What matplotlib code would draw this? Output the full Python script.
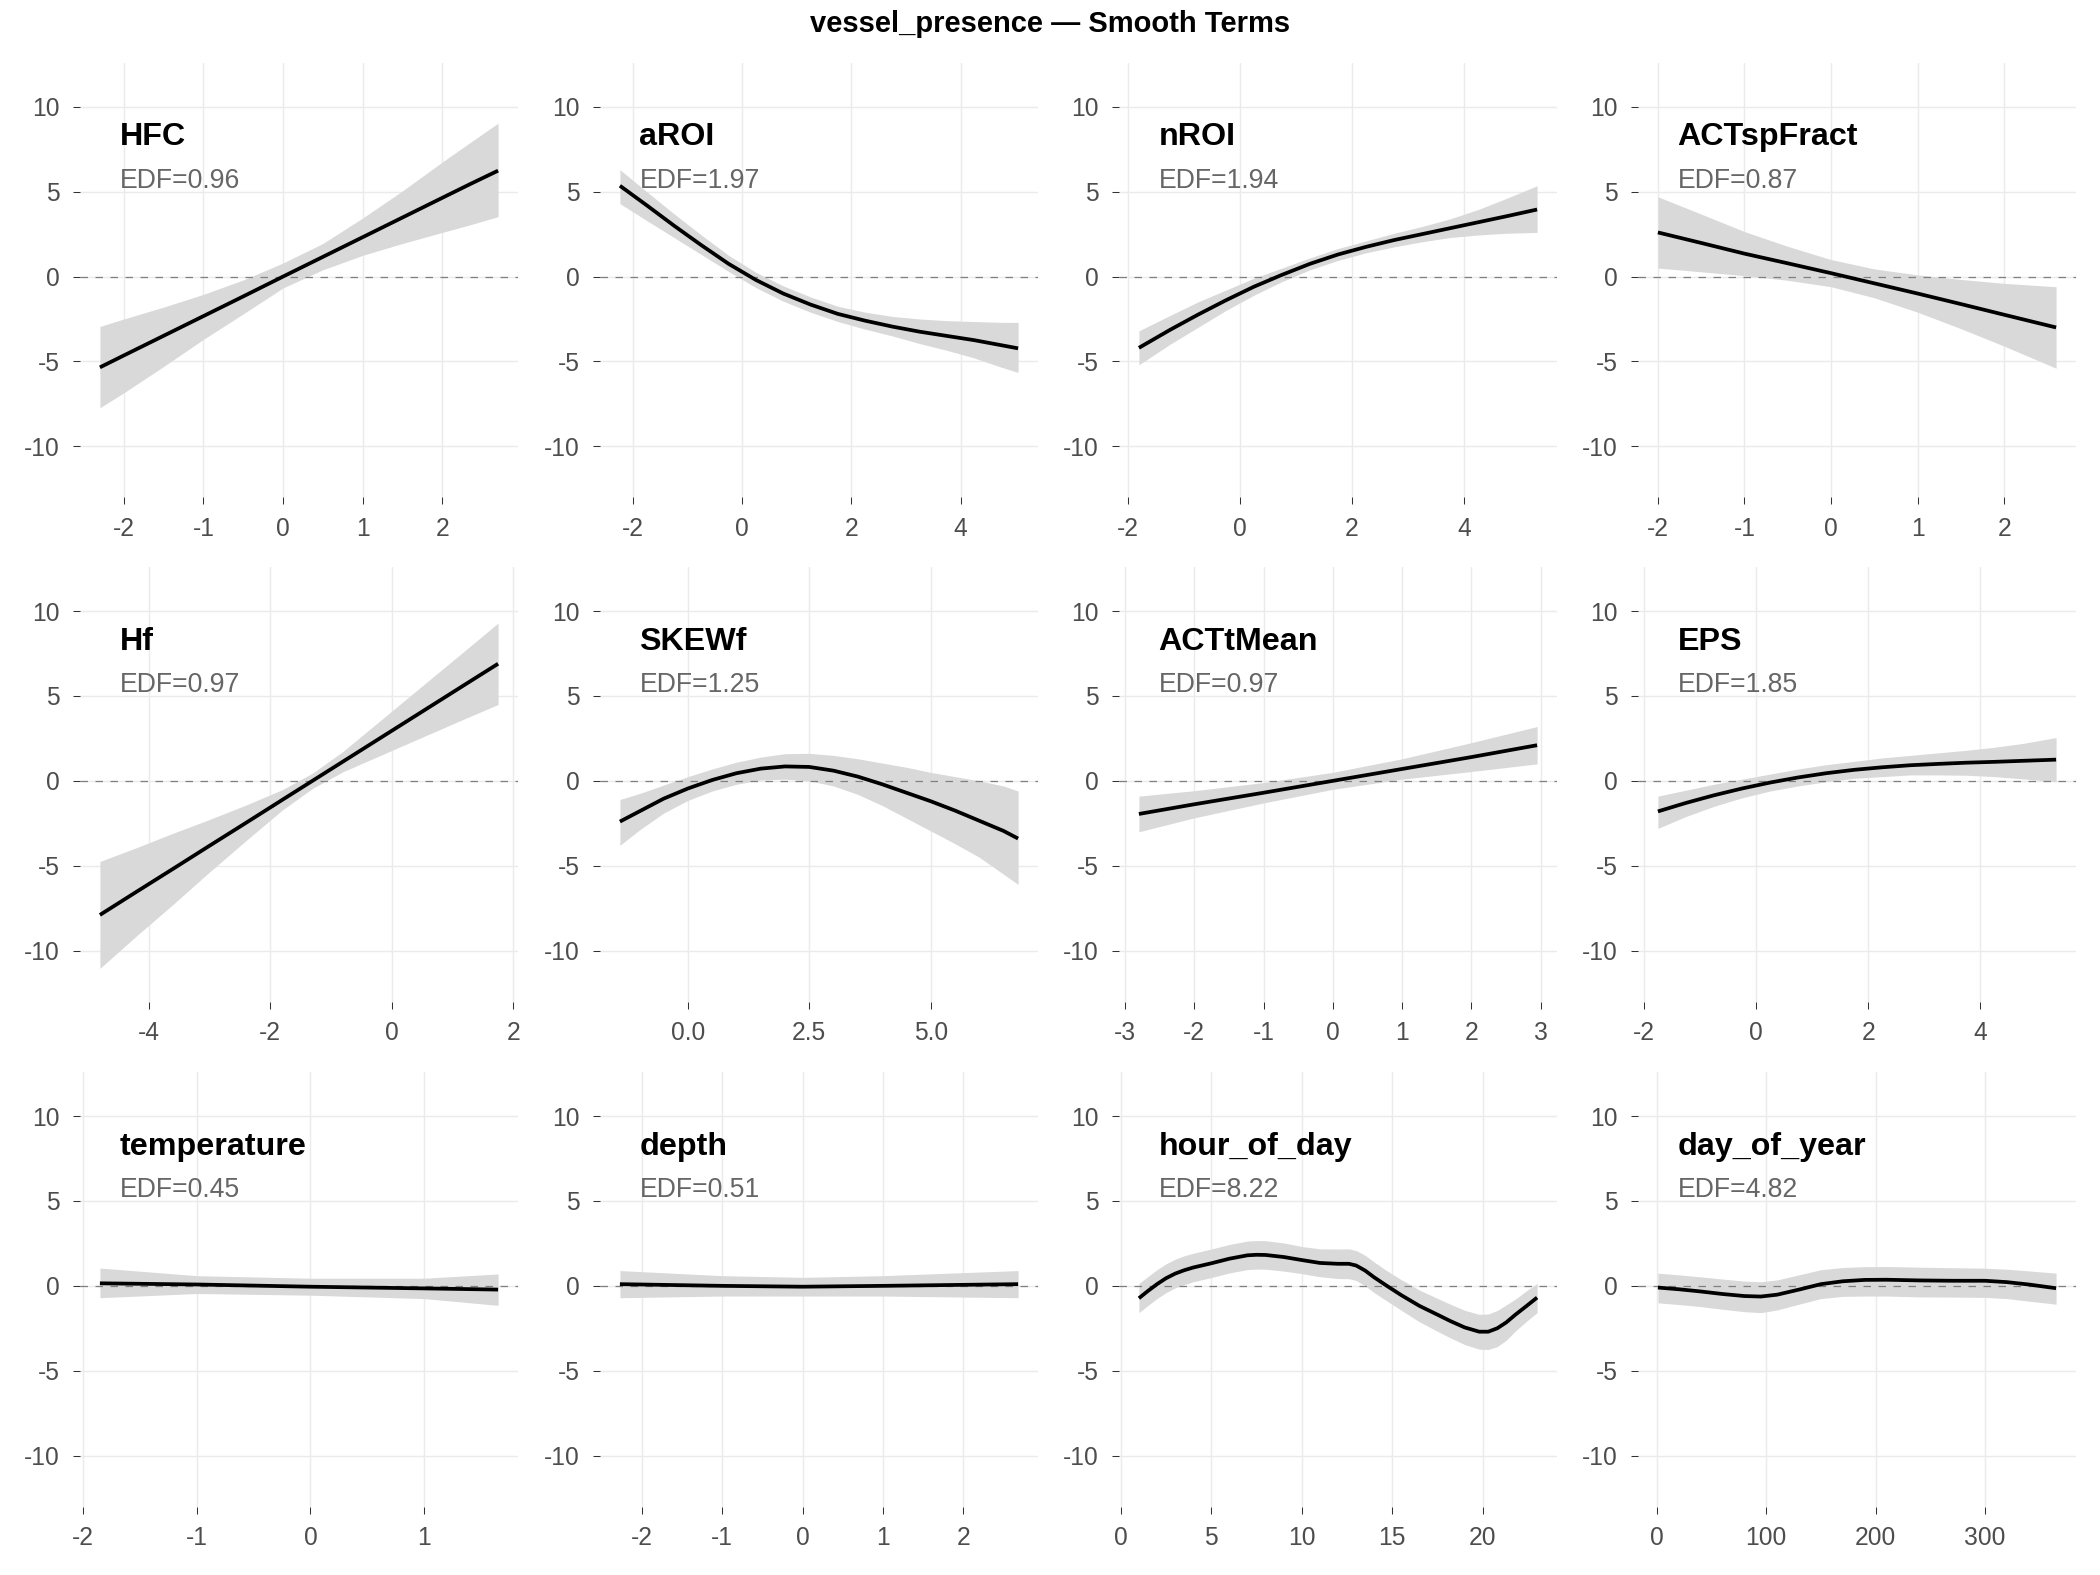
import matplotlib
matplotlib.use('Agg')
import matplotlib.pyplot as plt
import numpy as np

plt.rcParams['font.family'] = ['Liberation Sans', 'DejaVu Sans']

# smooth terms and their effective degrees of freedom
terms = ['HFC', 'aROI', 'nROI', 'ACTspFract',
         'Hf', 'SKEWf', 'ACTtMean', 'EPS',
         'temperature', 'depth', 'hour_of_day', 'day_of_year']
edf = [0.96, 1.97, 1.94, 0.87, 0.97, 1.25, 0.97, 1.85, 0.45, 0.51, 8.22, 4.82]

# fitted smooths (x, fit, lower CI, upper CI)
hfc_x = [-2.3, -2.0, -1.5, -1.0, -0.5, 0.0, 0.5, 1.0, 1.5, 2.0, 2.35, 2.7]
hfc_fit = [-5.35, -4.65, -3.49, -2.33, -1.17, 0.0, 1.16, 2.32, 3.48, 4.64, 5.45, 6.24]
hfc_lo = [-7.73, -6.85, -5.3, -3.7, -2.2, -0.67, 0.4, 1.25, 1.95, 2.6, 3.05, 3.53]
hfc_hi = [-2.94, -2.5, -1.8, -1.05, -0.2, 0.8, 1.95, 3.45, 5.05, 6.75, 7.9, 9.04]

aroi_x = [-2.24, -1.75, -1.25, -0.75, -0.25, 0.25, 0.75, 1.25, 1.75, 2.25, 2.75, 3.25, 3.75, 4.25, 4.75, 5.05]
aroi_fit = [5.35, 4.2, 3.0, 1.85, 0.75, -0.2, -1.0, -1.65, -2.2, -2.6, -2.95, -3.25, -3.5, -3.75, -4.05, -4.23]
aroi_lo = [4.3, 3.3, 2.3, 1.3, 0.3, -0.65, -1.45, -2.1, -2.65, -3.1, -3.5, -3.95, -4.35, -4.8, -5.35, -5.65]
aroi_hi = [6.3, 5.0, 3.7, 2.45, 1.25, 0.25, -0.55, -1.2, -1.75, -2.1, -2.35, -2.5, -2.6, -2.65, -2.7, -2.7]

nroi_x = [-1.8, -1.25, -0.75, -0.25, 0.25, 0.75, 1.25, 1.75, 2.25, 2.75, 3.25, 3.75, 4.25, 4.75, 5.3]
nroi_fit = [-4.2, -3.15, -2.25, -1.4, -0.6, 0.1, 0.75, 1.3, 1.75, 2.15, 2.5, 2.85, 3.2, 3.55, 3.95]
nroi_lo = [-5.2, -4.0, -3.0, -2.0, -1.1, -0.3, 0.4, 0.95, 1.4, 1.75, 2.05, 2.3, 2.45, 2.55, 2.6]
nroi_hi = [-3.2, -2.3, -1.5, -0.8, -0.1, 0.5, 1.1, 1.65, 2.1, 2.55, 2.95, 3.4, 3.95, 4.6, 5.35]

actsp_x = [-2.0, -1.5, -1.0, -0.5, 0.0, 0.5, 1.0, 1.5, 2.0, 2.6]
actsp_fit = [2.6, 1.98, 1.35, 0.78, 0.2, -0.4, -1.0, -1.62, -2.25, -3.0]
actsp_lo = [0.5, 0.28, 0.05, -0.22, -0.6, -1.25, -2.1, -3.07, -4.1, -5.4]
actsp_hi = [4.7, 3.68, 2.65, 1.78, 1.0, 0.45, 0.1, -0.17, -0.4, -0.6]

hf_x = [-4.8, -4.2, -3.6, -3.0, -2.4, -1.8, -1.3, -0.8, -0.3, 0.2, 0.7, 1.2, 1.75]
hf_fit = [-7.9, -6.54, -5.19, -3.83, -2.48, -1.12, 0.01, 1.14, 2.27, 3.4, 4.53, 5.66, 6.9]
hf_lo = [-11.05, -9.14, -7.29, -5.38, -3.53, -1.72, -0.44, 0.54, 1.32, 2.1, 2.88, 3.66, 4.5]
hf_hi = [-4.75, -3.94, -3.09, -2.28, -1.43, -0.52, 0.46, 1.74, 3.22, 4.7, 6.18, 7.66, 9.3]

skew_x = [-1.4, -1.0, -0.5, 0.0, 0.5, 1.0, 1.5, 2.0, 2.5, 3.0, 3.5, 4.0, 4.5, 5.0, 5.5, 6.0, 6.5, 6.8]
skew_fit = [-2.4, -1.8, -1.05, -0.45, 0.05, 0.45, 0.72, 0.85, 0.82, 0.6, 0.25, -0.2, -0.7, -1.2, -1.75, -2.35, -2.95, -3.4]
skew_lo = [-3.8, -2.9, -1.9, -1.15, -0.6, -0.2, 0.05, 0.1, 0.0, -0.3, -0.8, -1.45, -2.2, -2.95, -3.7, -4.5, -5.5, -6.1]
skew_hi = [-1.1, -0.75, -0.25, 0.25, 0.7, 1.1, 1.4, 1.6, 1.62, 1.5, 1.3, 1.05, 0.8, 0.5, 0.25, 0.0, -0.3, -0.6]

actt_x = [-2.8, -2.0, -1.0, 0.0, 1.0, 2.0, 2.95]
actt_fit = [-1.95, -1.38, -0.7, 0.0, 0.7, 1.4, 2.1]
actt_lo = [-3.0, -2.18, -1.3, -0.5, 0.1, 0.55, 1.0]
actt_hi = [-0.9, -0.58, -0.1, 0.5, 1.3, 2.25, 3.2]

eps_x = [-1.75, -1.25, -0.75, -0.25, 0.25, 0.75, 1.25, 1.75, 2.25, 2.75, 3.25, 3.75, 4.25, 4.75, 5.35]
eps_fit = [-1.8, -1.3, -0.85, -0.45, -0.1, 0.2, 0.45, 0.65, 0.8, 0.92, 1.0, 1.07, 1.12, 1.18, 1.25]
eps_lo = [-2.8, -2.1, -1.5, -1.0, -0.6, -0.3, -0.05, 0.15, 0.25, 0.35, 0.35, 0.33, 0.25, 0.12, -0.05]
eps_hi = [-0.9, -0.55, -0.2, 0.1, 0.4, 0.7, 0.95, 1.15, 1.35, 1.5, 1.65, 1.8, 1.98, 2.2, 2.55]

temp_x = [-1.85, -1.0, 0.0, 1.0, 1.65]
temp_fit = [0.15, 0.08, -0.05, -0.15, -0.22]
temp_lo = [-0.7, -0.45, -0.55, -0.75, -1.15]
temp_hi = [1.05, 0.6, 0.45, 0.45, 0.7]

depth_x = [-2.27, -1.0, 0.0, 1.0, 2.68]
depth_fit = [0.1, 0.0, -0.05, 0.0, 0.1]
depth_lo = [-0.7, -0.6, -0.6, -0.6, -0.7]
depth_hi = [0.9, 0.6, 0.5, 0.6, 0.9]

hour_x = [1.0, 1.5, 2.0, 2.5, 3.0, 3.5, 4.0, 5.0, 6.0, 7.0, 7.5, 8.0, 9.0, 10.0, 11.0, 12.0, 12.6,
          13.0, 13.5, 14.0, 14.7, 15.5, 16.5, 17.5, 18.2, 19.0, 19.8, 20.3, 20.8, 21.3, 21.8, 22.4, 23.0]
hour_fit = [-0.73, -0.3, 0.1, 0.45, 0.72, 0.92, 1.08, 1.33, 1.6, 1.8, 1.83, 1.82, 1.7, 1.52, 1.35, 1.3, 1.3,
            1.2, 0.9, 0.5, 0.0, -0.55, -1.18, -1.7, -2.07, -2.45, -2.7, -2.7, -2.5, -2.15, -1.7, -1.2, -0.69]
hour_lo = [-1.58, -1.15, -0.75, -0.4, -0.12, 0.07, 0.24, 0.49, 0.76, 0.96, 0.99, 0.98, 0.87, 0.72, 0.54, 0.43, 0.42,
           0.32, 0.0, -0.4, -0.89, -1.44, -2.12, -2.68, -3.06, -3.46, -3.73, -3.75, -3.58, -3.2, -2.66, -2.1, -1.58]
hour_hi = [0.14, 0.55, 0.95, 1.3, 1.57, 1.77, 1.92, 2.17, 2.44, 2.64, 2.67, 2.66, 2.53, 2.32, 2.18, 2.17, 2.18,
           2.08, 1.8, 1.4, 0.89, 0.36, -0.25, -0.74, -1.08, -1.44, -1.68, -1.66, -1.45, -1.12, -0.78, -0.3, 0.14]

doy_x = [1, 20, 40, 60, 80, 95, 110, 130, 150, 170, 190, 210, 240, 270, 300, 320, 340, 365]
doy_fit = [-0.1, -0.2, -0.33, -0.48, -0.6, -0.63, -0.52, -0.22, 0.1, 0.27, 0.35, 0.36, 0.32, 0.3, 0.3, 0.22, 0.08, -0.14]
doy_lo = [-1.0, -1.1, -1.22, -1.38, -1.52, -1.58, -1.42, -1.08, -0.75, -0.62, -0.6, -0.6, -0.65, -0.66, -0.68, -0.75, -0.9, -1.08]
doy_hi = [0.75, 0.65, 0.53, 0.4, 0.28, 0.24, 0.35, 0.65, 0.95, 1.08, 1.13, 1.14, 1.1, 1.07, 1.04, 0.98, 0.88, 0.75]

curves = [
    (hfc_x, hfc_fit, hfc_lo, hfc_hi),
    (aroi_x, aroi_fit, aroi_lo, aroi_hi),
    (nroi_x, nroi_fit, nroi_lo, nroi_hi),
    (actsp_x, actsp_fit, actsp_lo, actsp_hi),
    (hf_x, hf_fit, hf_lo, hf_hi),
    (skew_x, skew_fit, skew_lo, skew_hi),
    (actt_x, actt_fit, actt_lo, actt_hi),
    (eps_x, eps_fit, eps_lo, eps_hi),
    (temp_x, temp_fit, temp_lo, temp_hi),
    (depth_x, depth_fit, depth_lo, depth_hi),
    (hour_x, hour_fit, hour_lo, hour_hi),
    (doy_x, doy_fit, doy_lo, doy_hi),
]

# x tick positions and labels per panel
xtick_vals = [
    [-2, -1, 0, 1, 2], [-2, 0, 2, 4], [-2, 0, 2, 4], [-2, -1, 0, 1, 2],
    [-4, -2, 0, 2], [0.0, 2.5, 5.0], [-3, -2, -1, 0, 1, 2, 3], [-2, 0, 2, 4],
    [-2, -1, 0, 1], [-2, -1, 0, 1, 2], [0, 5, 10, 15, 20], [0, 100, 200, 300],
]
xtick_labels = [
    ['-2', '-1', '0', '1', '2'], ['-2', '0', '2', '4'], ['-2', '0', '2', '4'], ['-2', '-1', '0', '1', '2'],
    ['-4', '-2', '0', '2'], ['0.0', '2.5', '5.0'], ['-3', '-2', '-1', '0', '1', '2', '3'], ['-2', '0', '2', '4'],
    ['-2', '-1', '0', '1'], ['-2', '-1', '0', '1', '2'], ['0', '5', '10', '15', '20'], ['0', '100', '200', '300'],
]
yticks = [-10, -5, 0, 5, 10]

W, H = 2100, 1575
fig = plt.figure(figsize=(14, 10.5), dpi=150)
col_left = [80, 600, 1119, 1638]
row_top = [62.7, 567, 1072]
pw, ph = 438, 434.5

for i, term in enumerate(terms):
    r, c = divmod(i, 4)
    ax = fig.add_axes([col_left[c] / W, 1 - (row_top[r] + ph) / H, pw / W, ph / H])
    x, fit, lo, hi = curves[i]
    ax.fill_between(x, lo, hi, color='#D9D9D9', lw=0, zorder=2)
    ax.axhline(0, color='#808080', lw=0.6, ls=(0, (6, 6)), zorder=3)
    ax.plot(x, fit, color='black', lw=1.8, zorder=4, solid_capstyle='butt',
            solid_joinstyle='round')

    ax.set_xticks(xtick_vals[i])
    ax.set_xticklabels(xtick_labels[i])
    ax.set_yticks(yticks)
    ax.set_yticklabels([str(v) for v in yticks])
    span = max(x) - min(x)
    ax.set_xlim(min(x) - 0.05 * span, max(x) + 0.05 * span)
    ax.set_ylim(-13.0, 12.6)

    ax.grid(True, color='#EBEBEB', lw=0.7)
    ax.set_axisbelow(True)
    for s in ax.spines.values():
        s.set_visible(False)
    ax.tick_params(length=3.4, width=0.5, color='#333333', labelsize=11.8, labelcolor='#4D4D4D')
    ax.tick_params(axis='x', pad=6)
    ax.tick_params(axis='y', pad=6.5)

    ax.text(0.09, 0.81, term, transform=ax.transAxes, fontsize=15.5,
            fontweight='bold', color='black', va='baseline')
    ax.text(0.09, 0.712, f'EDF={edf[i]:.2f}', transform=ax.transAxes,
            fontsize=12.8, color='#666666', va='baseline')

fig.suptitle('vessel_presence \u2014 Smooth Terms', x=0.5, y=0.9845,
             fontsize=14, fontweight='bold', va='center')

fig.savefig('out.png', dpi=150)
